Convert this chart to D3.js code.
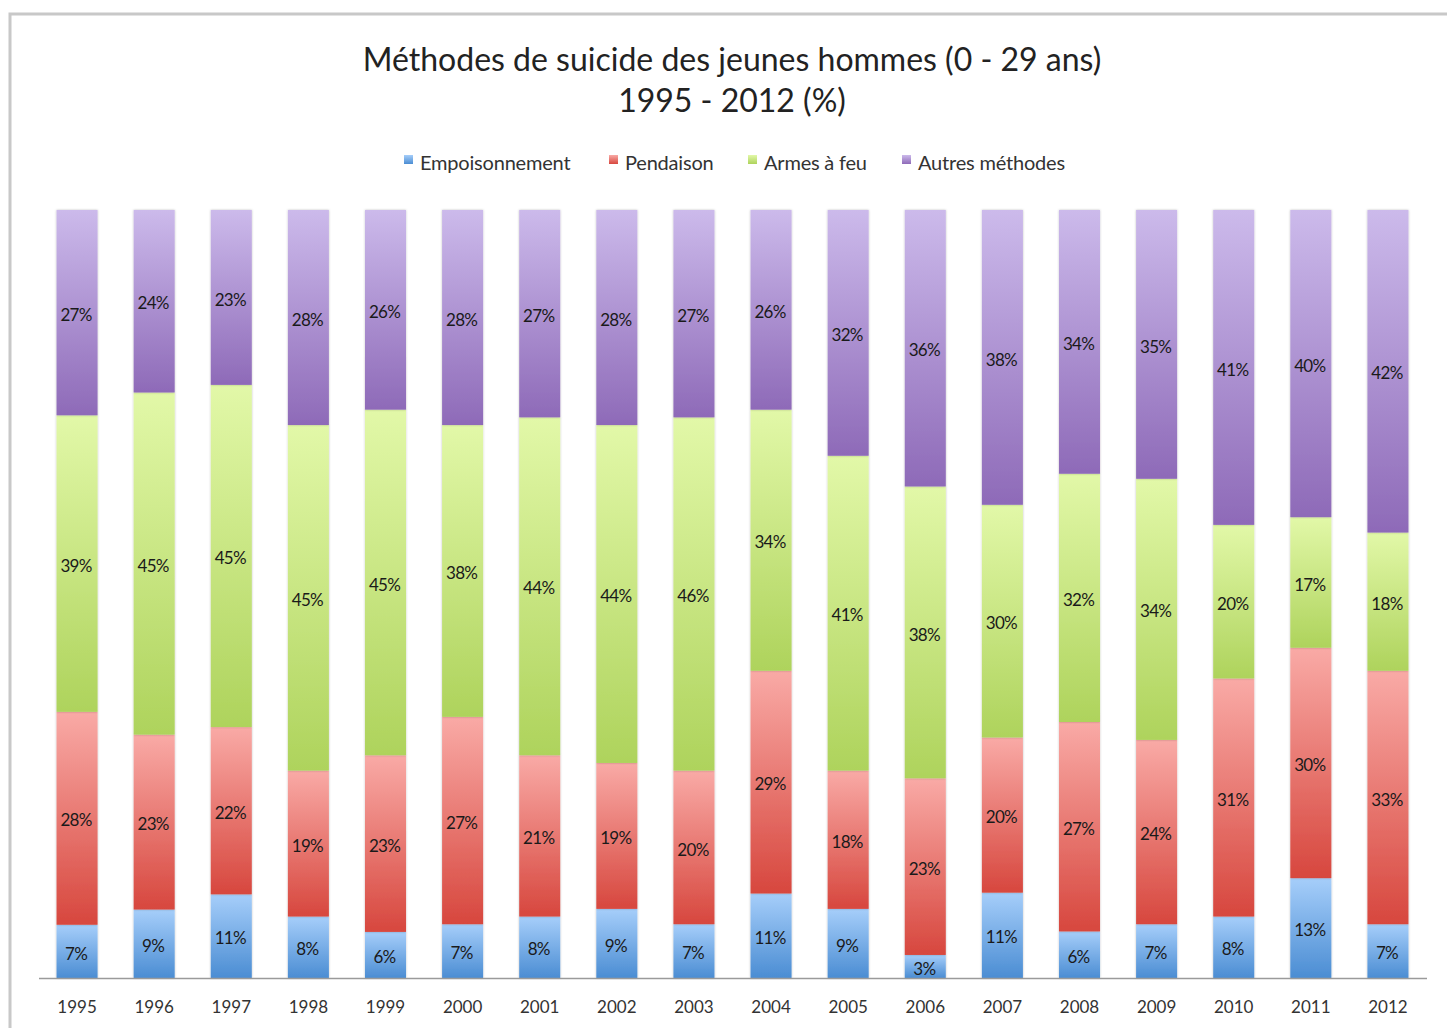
<!DOCTYPE html>
<html>
<head>
<meta charset="utf-8">
<script src="https://cdn.jsdelivr.net/npm/d3@7"></script>
<style>
    body { margin: 0; background: #fff; }
    #chart { width: 1447px; height: 1028px; }
    text { font-family: Lato, "Open Sans", sans-serif; fill: #222; }
</style>
</head>
<body>
<div id="chart"></div>
<script>
// years on the x axis
let years = ["1995", "1996", "1997", "1998", "1999", "2000", "2001", "2002", "2003",
    "2004", "2005", "2006", "2007", "2008", "2009", "2010", "2011", "2012"];

let categories = ["Empoisonnement", "Pendaison", "Armes à feu", "Autres méthodes"];

// percentages
let empoisonnement = [7, 9, 11, 8, 6, 7, 8, 9, 7, 11, 9, 3, 11, 6, 7, 8, 13, 7];
let pendaison = [28, 23, 22, 19, 23, 27, 21, 19, 20, 29, 18, 23, 20, 27, 24, 31, 30, 33];
let armesAFeu = [39, 45, 45, 45, 45, 38, 44, 44, 46, 34, 41, 38, 30, 32, 34, 20, 17, 18];
let autres = [27, 24, 23, 28, 26, 28, 27, 28, 27, 26, 32, 36, 38, 34, 35, 41, 40, 42];

let seriesValues = [empoisonnement, pendaison, armesAFeu, autres];

// gradient stops per category: [top, bottom]
let gradientColors = [
    ["#a6cefa", "#4b8dd3"],
    ["#f9aaa6", "#d7473e"],
    ["#e2f8a8", "#aed35c"],
    ["#ccbaeb", "#8e6ab8"]
];

// build rows for d3.stack
let data = years.map((y, i) => {
    let row = { Year: y };
    categories.forEach((c, j) => { row[c] = seriesValues[j][i]; });
    return row;
});

let width = 1447, height = 1028;

let svg = d3.select("#chart").append("svg")
    .attr("width", width)
    .attr("height", height);

// chart frame
svg.append("rect")
    .attr("x", 10)
    .attr("y", 14)
    .attr("width", 1600)
    .attr("height", 1200)
    .attr("fill", "none")
    .attr("stroke", "#c8c8c8")
    .attr("stroke-width", 3);

let defs = svg.append("defs");
categories.forEach((c, i) => {
    let grad = defs.append("linearGradient")
        .attr("id", "grad" + i)
        .attr("x1", 0).attr("y1", 0)
        .attr("x2", 0).attr("y2", 1);
    grad.append("stop").attr("offset", "0%").attr("stop-color", gradientColors[i][0]);
    grad.append("stop").attr("offset", "100%").attr("stop-color", gradientColors[i][1]);
});

defs.append("filter")
    .attr("id", "shadow")
    .attr("x", "-20%").attr("y", "-5%")
    .attr("width", "140%").attr("height", "110%")
    .append("feDropShadow")
    .attr("dx", 0).attr("dy", 0)
    .attr("stdDeviation", 1.2)
    .attr("flood-color", "#000")
    .attr("flood-opacity", 0.25);

// title
let title = svg.append("text")
    .attr("text-anchor", "middle")
    .style("font-size", "32px");
title.append("tspan").attr("x", 732).attr("y", 71).text("Méthodes de suicide des jeunes hommes (0 - 29 ans)");
title.append("tspan").attr("x", 732).attr("y", 112).text("1995 - 2012 (%)");

// scales
let x = d3.scaleBand()
    .domain(years)
    .range([38.5, 1426.5])
    .paddingInner(0.468)
    .paddingOuter(0.234);

let y = d3.scaleLinear()
    .domain([0, 1])
    .range([978, 210]);

let stacked = d3.stack()
    .keys(categories)
    .offset(d3.stackOffsetExpand)(data);

// draw the layers
let layers = svg.append("g").selectAll("g.layer")
    .data(stacked)
    .enter().append("g")
    .attr("class", "layer")
    .attr("fill", (d, i) => "url(#grad" + i + ")");

layers.selectAll("rect")
    .data(d => d)
    .enter().append("rect")
    .attr("x", d => x(d.data.Year))
    .attr("width", x.bandwidth())
    .attr("y", d => y(d[1]))
    .attr("height", d => y(d[0]) - y(d[1]))
    .attr("filter", "url(#shadow)");

// value labels
let labels = svg.append("g").selectAll("g.labels")
    .data(stacked)
    .enter().append("g")
    .attr("class", "labels");

labels.selectAll("text")
    .data(d => d.map(v => ({ v: v, key: d.key })))
    .enter().append("text")
    .attr("x", d => x(d.v.data.Year) + x.bandwidth() / 2 - 1)
    .attr("y", d => (y(d.v[0]) + y(d.v[1])) / 2 + 2)
    .attr("dy", "0.36em")
    .attr("text-anchor", "middle")
    .style("font-size", "17px")
    .style("letter-spacing", "-0.7px")
    .style("fill", "#1a1a1a")
    .text(d => d.v.data[d.key] + "%");

// x axis
let xAxis = d3.axisBottom(x).tickSize(0).tickPadding(23);
let axisG = svg.append("g")
    .attr("transform", "translate(0,978)")
    .call(xAxis);
axisG.select(".domain").attr("stroke", "#9a9a9a").attr("stroke-width", 1.5);
axisG.selectAll(".tick text")
    .style("font-family", "Lato, sans-serif")
    .style("font-size", "17px")
    .style("fill", "#333");

// legend
let legendX = [404, 609, 748, 902];
let legend = svg.append("g").selectAll("g.legend")
    .data(categories)
    .enter().append("g")
    .attr("class", "legend")
    .attr("transform", (d, i) => "translate(" + legendX[i] + ",0)");

legend.append("rect")
    .attr("x", 0)
    .attr("y", 155)
    .attr("width", 9)
    .attr("height", 9)
    .attr("fill", (d, i) => "url(#grad" + i + ")");

legend.append("text")
    .attr("x", 16)
    .attr("y", 170)
    .style("font-size", "20px")
    .style("letter-spacing", "-0.2px")
    .style("fill", "#333")
    .text(d => d);
</script>
</body>
</html>
